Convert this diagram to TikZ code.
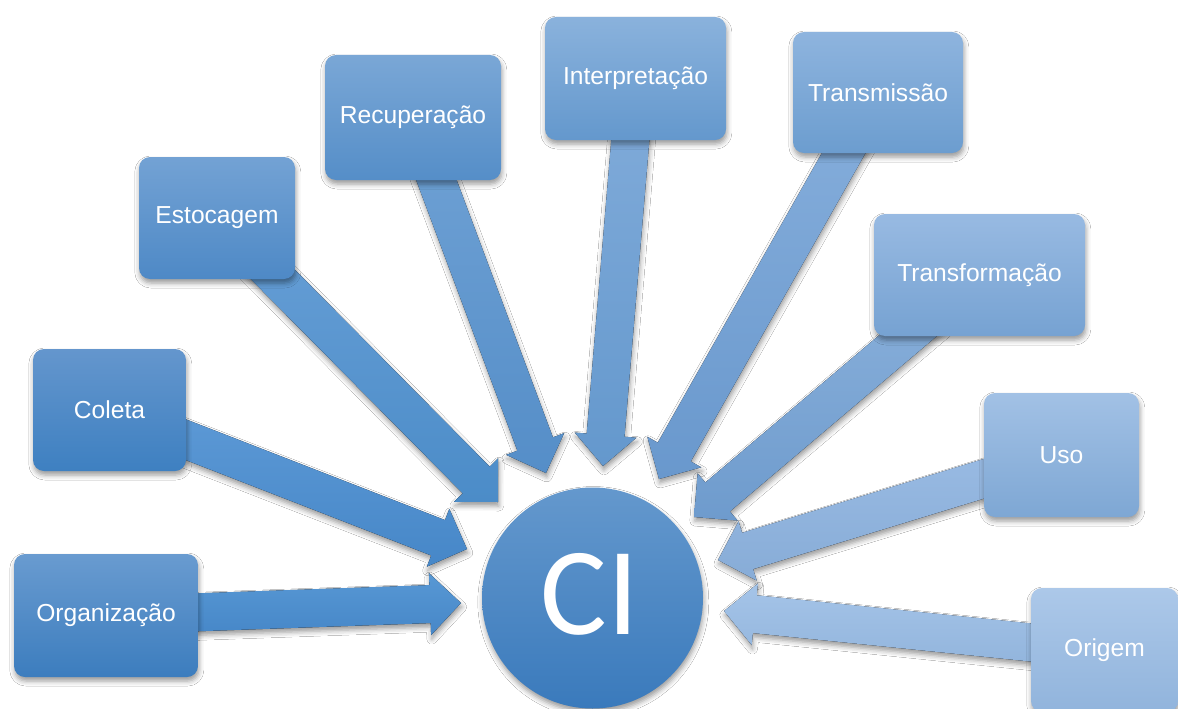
\documentclass[tikz,border=0pt]{standalone}
\usepackage{fontspec}
\setmainfont{Liberation Sans}
\newfontfamily\cifont{Carlito}
\usetikzlibrary{calc,shadows.blur,backgrounds}
% box colours (top / bottom) and arrow colours (top / bottom)
\definecolor{orgBT}{RGB}{105,155,208}\definecolor{orgBB}{RGB}{60,125,190}
\definecolor{orgAT}{RGB}{88,152,212}\definecolor{orgAB}{RGB}{70,135,200}
\definecolor{colBT}{RGB}{100,150,205}\definecolor{colBB}{RGB}{62,128,193}
\definecolor{colAT}{RGB}{95,155,215}\definecolor{colAB}{RGB}{70,135,200}
\definecolor{estBT}{RGB}{115,162,212}\definecolor{estBB}{RGB}{78,137,198}
\definecolor{estAT}{RGB}{105,160,215}\definecolor{estAB}{RGB}{75,140,200}
\definecolor{recBT}{RGB}{122,167,214}\definecolor{recBB}{RGB}{85,142,200}
\definecolor{recAT}{RGB}{112,162,213}\definecolor{recAB}{RGB}{85,142,200}
\definecolor{intBT}{RGB}{138,178,220}\definecolor{intBB}{RGB}{100,152,205}
\definecolor{intAT}{RGB}{130,172,218}\definecolor{intAB}{RGB}{100,152,205}
\definecolor{trmBT}{RGB}{142,180,222}\definecolor{trmBB}{RGB}{108,157,207}
\definecolor{trmAT}{RGB}{135,175,220}\definecolor{trmAB}{RGB}{105,152,205}
\definecolor{trfBT}{RGB}{152,186,226}\definecolor{trfBB}{RGB}{118,162,210}
\definecolor{trfAT}{RGB}{140,178,220}\definecolor{trfAB}{RGB}{110,155,205}
\definecolor{usoBT}{RGB}{162,193,229}\definecolor{usoBB}{RGB}{126,167,212}
\definecolor{usoAT}{RGB}{155,188,228}\definecolor{usoAB}{RGB}{135,172,215}
\definecolor{oriBT}{RGB}{172,200,233}\definecolor{oriBB}{RGB}{145,180,220}
\definecolor{oriAT}{RGB}{165,196,232}\definecolor{oriAB}{RGB}{145,180,220}
\definecolor{ciT}{RGB}{100,152,205}\definecolor{ciB}{RGB}{58,122,188}
\newcommand\ciarrow[4]{%
  \coordinate (#1h) at ($(#2)!31pt!(#1.center)$);
  \fill[blockarr, top color=#3, bottom color=#4]
    ($(#1.center)!19pt!90:(#2)$) -- ($(#1h)!19pt!90:(#2)$) -- ($(#1h)!31pt!90:(#2)$) -- (#2)
    -- ($(#1h)!31pt!-90:(#2)$) -- ($(#1h)!19pt!-90:(#2)$) -- ($(#1.center)!19pt!-90:(#2)$) -- cycle;}
\begin{document}
\begin{tikzpicture}[x=1pt,y=-1pt,
  softshadow/.style={blur shadow={shadow xshift=0.8pt, shadow yshift=-4pt, shadow blur radius=5pt, shadow opacity=40}},
  itembox/.style={rectangle, rounded corners=11pt, inner sep=0pt, text=white,
    font=\fontsize{24.6}{29}\selectfont, softshadow},
  blockarr/.style={softshadow}]
\useasboundingbox (0,0) rectangle (1178,709);
% boxes
\node[itembox, minimum width=184pt, minimum height=123pt, top color=orgBT, bottom color=orgBB] (org) at (106,615.5) {Organização};
\node[itembox, minimum width=153pt, minimum height=122pt, top color=colBT, bottom color=colBB] (col) at (109.5,410) {Coleta};
\node[itembox, minimum width=156pt, minimum height=122pt, top color=estBT, bottom color=estBB] (est) at (217,218) {Estocagem};
\node[itembox, minimum width=176pt, minimum height=125pt, top color=recBT, bottom color=recBB] (rec) at (413,117.5) {Recuperação};
\node[itembox, minimum width=181pt, minimum height=123pt, top color=intBT, bottom color=intBB] (int) at (635.5,78.5) {Interpretação};
\node[itembox, minimum width=170pt, minimum height=121pt, top color=trmBT, bottom color=trmBB] (trm) at (878,92.5) {Transmissão};
\node[itembox, minimum width=211pt, minimum height=122pt, top color=trfBT, bottom color=trfBB] (trf) at (979.5,275) {Transformação};
\node[itembox, minimum width=155pt, minimum height=124pt, top color=usoBT, bottom color=usoBB] (uso) at (1061.5,455) {Uso};
\node[itembox, minimum width=147pt, minimum height=124pt, top color=oriBT, bottom color=oriBB] (ori) at (1104.5,650) {Origem};
% centre
\node[circle, minimum size=221pt, inner sep=0pt, top color=ciT, bottom color=ciB, softshadow] (ci) at (592.5,598) {};
\node[text=white, font=\cifont\fontsize{125}{130}\selectfont, inner sep=0pt] (cilabel) at (590,594) {CI};
% arrow tips
\coordinate (orgt) at (461,603);
\coordinate (colt) at (467,549);
\coordinate (estt) at (498,502);
\coordinate (rect) at (546,473);
\coordinate (intt) at (603,466);
\coordinate (trmt) at (659,479);
\coordinate (trft) at (694,517);
\coordinate (usot) at (718,560);
\coordinate (orit) at (724,611);
\begin{pgfonlayer}{background}
\fill[white] (0,0) rectangle (1178,709);
\ciarrow{org}{orgt}{orgAT}{orgAB}
\ciarrow{col}{colt}{colAT}{colAB}
\ciarrow{est}{estt}{estAT}{estAB}
\ciarrow{rec}{rect}{recAT}{recAB}
\ciarrow{int}{intt}{intAT}{intAB}
\ciarrow{trm}{trmt}{trmAT}{trmAB}
\ciarrow{trf}{trft}{trfAT}{trfAB}
\ciarrow{uso}{usot}{usoAT}{usoAB}
\ciarrow{ori}{orit}{oriAT}{oriAB}
\end{pgfonlayer}
\end{tikzpicture}
\end{document}
